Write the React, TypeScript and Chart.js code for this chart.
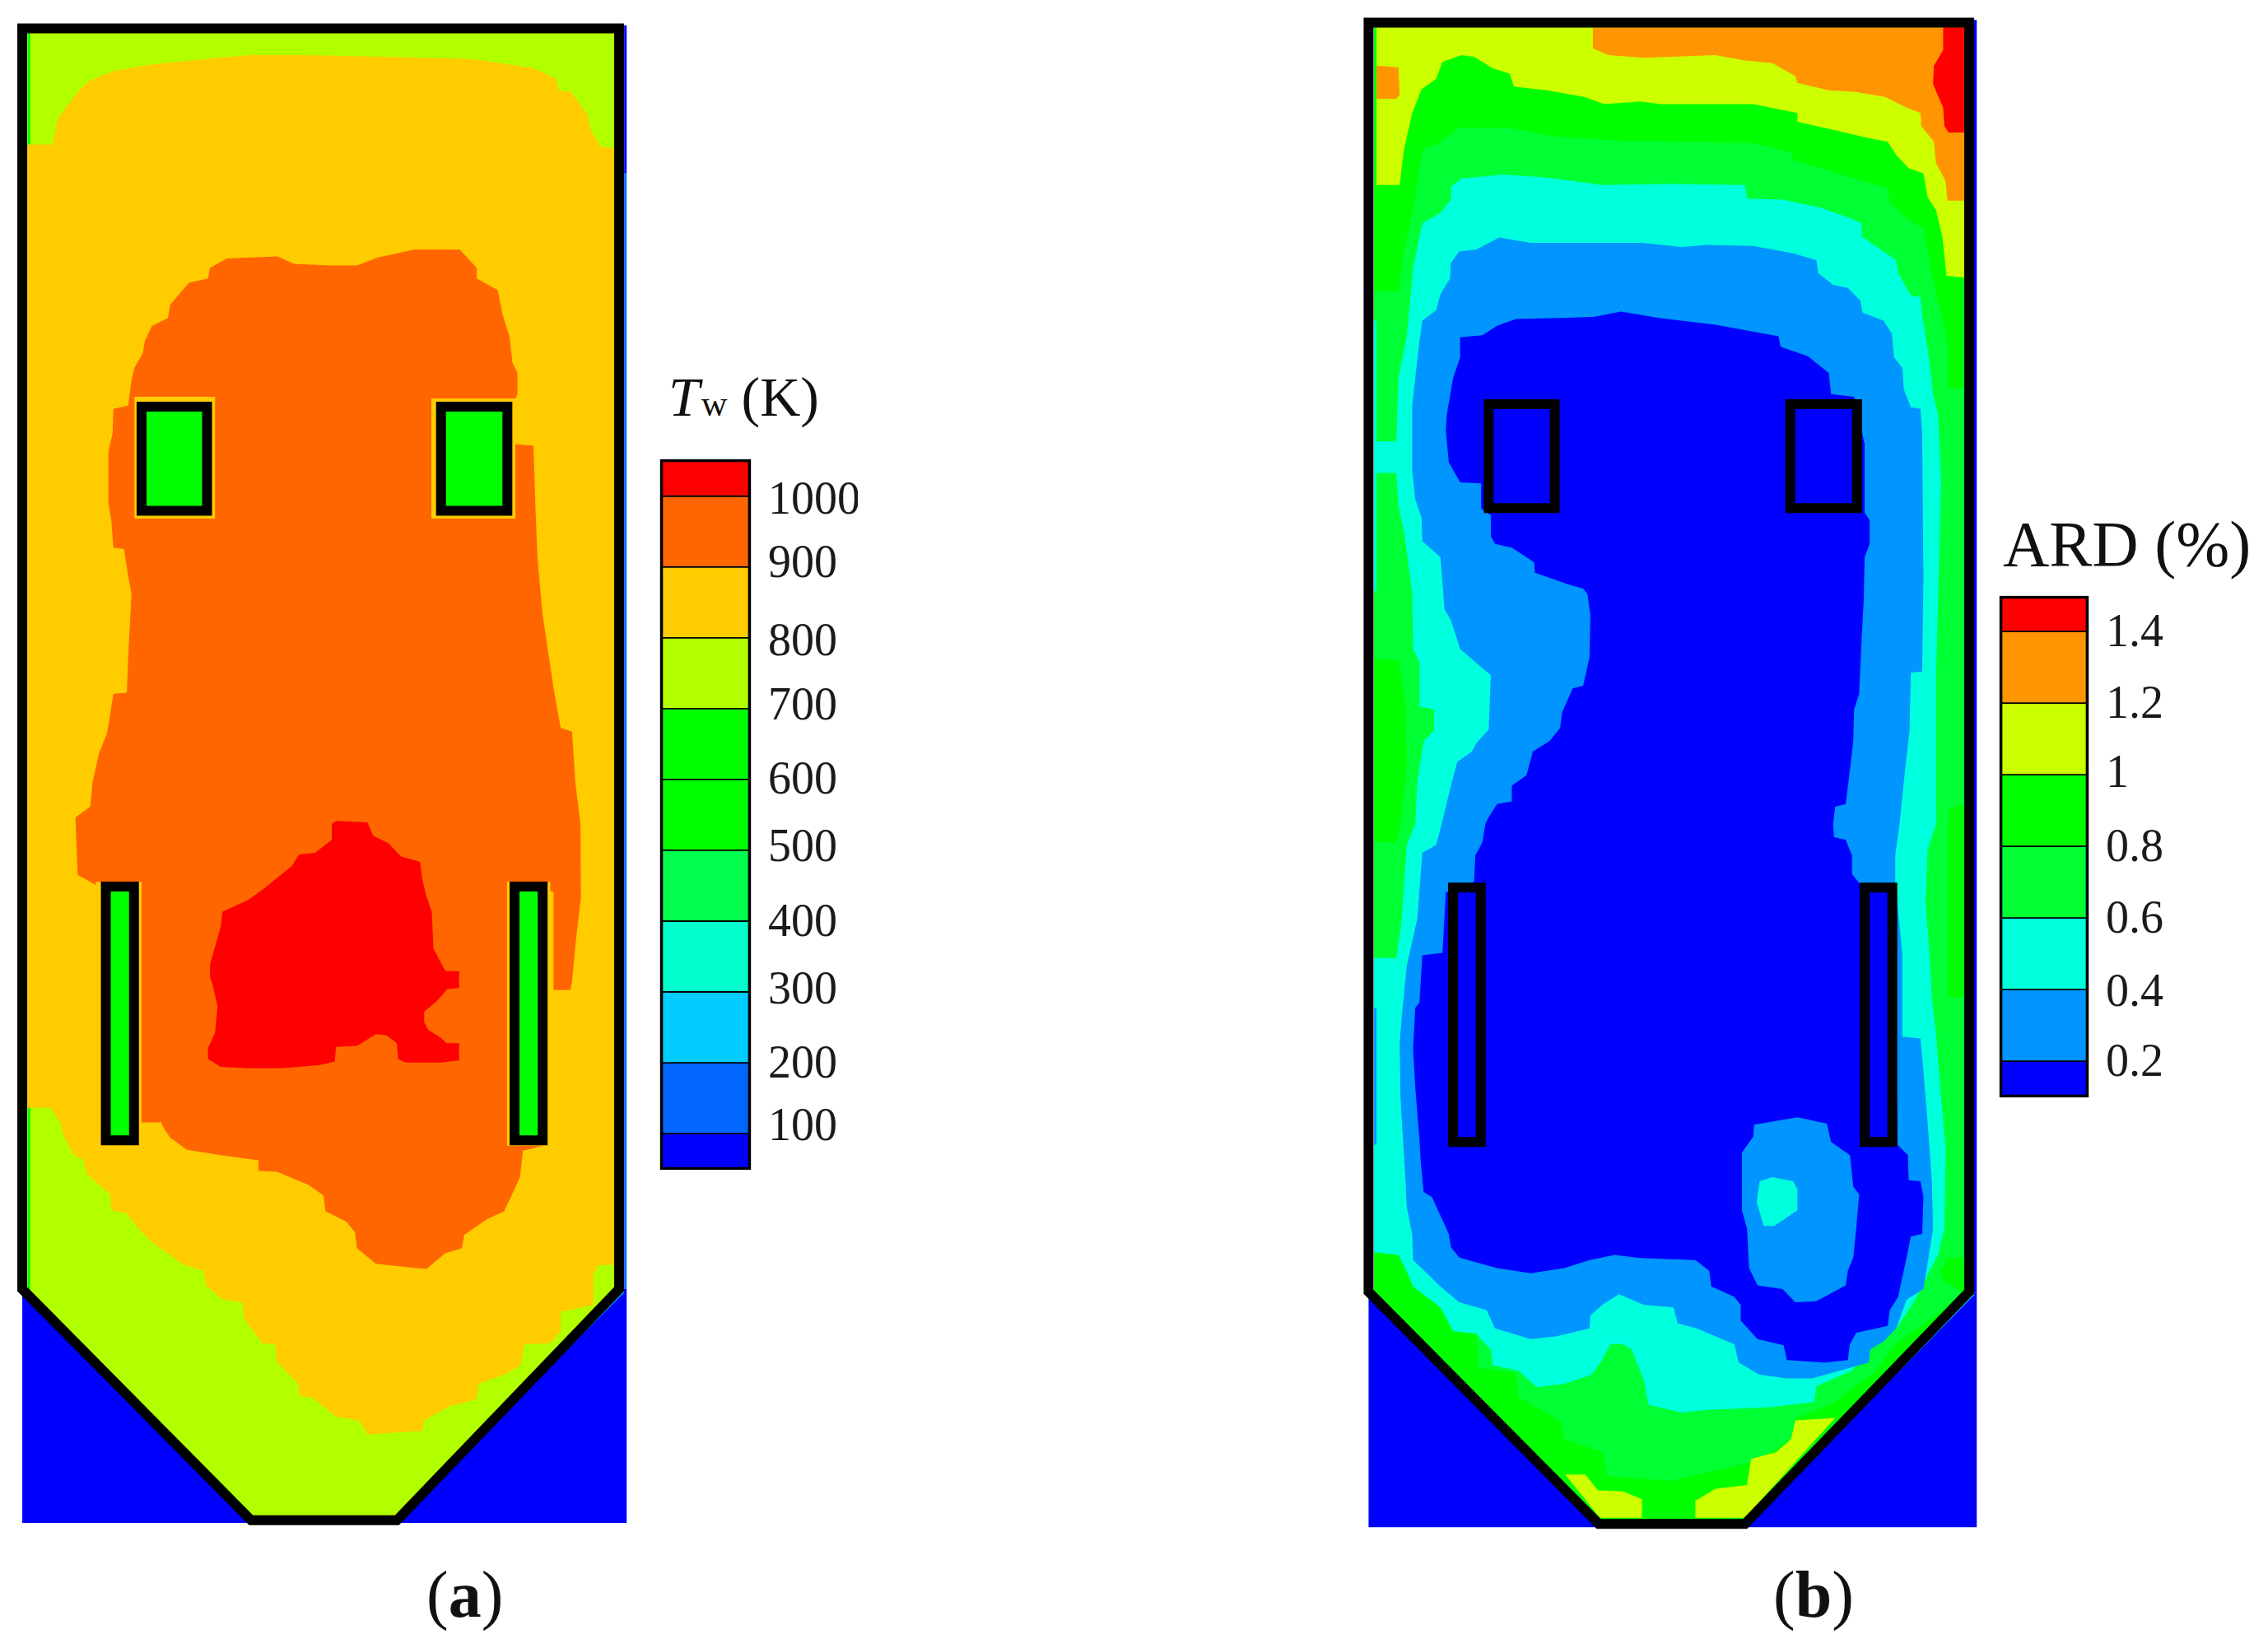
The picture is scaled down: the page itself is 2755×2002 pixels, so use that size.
import { useEffect, useRef } from 'react'
import { Chart, registerables } from 'chart.js'

Chart.register(...registerables)

type Pt = [number, number]

// furnace grid units: 1568 wide per 800px, 3136 tall per 2002px
const GRID_W = 1568
const GRID_H = 3136

// ---------- panel (a), wall temperature contours ----------
const aHopperBlue: Pt[] = [[53, 2453], [1492, 2453], [1492, 2898], [53, 2898]]
const aInterior: Pt[] = [[65, 62], [1462, 62], [1462, 2455], [945, 2885], [600, 2885], [65, 2455]]
const a800: Pt[] = [[72, 275], [125, 275], [138, 225], [185, 175], [210, 155], [270, 135], [365, 122], [495, 112], [590, 105], [740, 105], [1120, 112], [1190, 120], [1270, 130], [1325, 150], [1330, 172], [1360, 175], [1400, 220], [1405, 245], [1430, 280], [1462, 282], [1462, 2406], [1425, 2408], [1413, 2423], [1413, 2483], [1335, 2496], [1335, 2533], [1310, 2556], [1248, 2558], [1240, 2598], [1200, 2616], [1140, 2633], [1135, 2663], [1070, 2676], [1010, 2703], [1005, 2723], [875, 2730], [855, 2703], [800, 2696], [745, 2660], [712, 2656], [710, 2633], [660, 2593], [655, 2558], [625, 2556], [580, 2508], [578, 2478], [530, 2473], [490, 2446], [485, 2418], [440, 2408], [360, 2363], [330, 2338], [300, 2308], [265, 2303], [262, 2273], [205, 2233], [200, 2208], [175, 2198], [150, 2158], [145, 2138], [120, 2108], [65, 2108], [65, 275]]
const a900: Pt[] = [[500, 510], [540, 492], [660, 488], [700, 502], [790, 505], [850, 505], [900, 490], [985, 475], [1095, 475], [1135, 510], [1135, 530], [1185, 552], [1197, 600], [1213, 640], [1220, 690], [1232, 710], [1232, 750], [1225, 762], [1225, 845], [1270, 848], [1275, 970], [1280, 1065], [1292, 1170], [1305, 1240], [1318, 1310], [1335, 1385], [1362, 1392], [1370, 1490], [1382, 1568], [1383, 1708], [1372, 1783], [1362, 1868], [1358, 1884], [1318, 1884], [1318, 1698], [1303, 1693], [1303, 2178], [1245, 2190], [1238, 2240], [1215, 2280], [1200, 2305], [1160, 2320], [1105, 2350], [1100, 2375], [1060, 2385], [1015, 2415], [895, 2405], [850, 2375], [845, 2345], [825, 2325], [775, 2305], [770, 2275], [735, 2255], [660, 2230], [615, 2228], [615, 2208], [525, 2198], [445, 2188], [405, 2165], [385, 2140], [385, 2136], [335, 2136], [335, 1690], [240, 1690], [215, 1678], [185, 1665], [180, 1568], [180, 1555], [215, 1535], [220, 1490], [235, 1435], [255, 1395], [270, 1320], [302, 1318], [305, 1255], [313, 1130], [305, 1095], [295, 1045], [270, 1042], [265, 990], [258, 955], [258, 860], [268, 825], [270, 778], [305, 772], [313, 725], [320, 700], [340, 672], [345, 648], [362, 620], [400, 605], [405, 580], [450, 538], [495, 530]]
const a1000: Pt[] = [[800, 1562], [875, 1565], [888, 1590], [925, 1605], [955, 1630], [1000, 1640], [1005, 1670], [1013, 1700], [1028, 1735], [1032, 1805], [1055, 1840], [1062, 1848], [1093, 1848], [1093, 1880], [1065, 1882], [1040, 1905], [1010, 1925], [1010, 1945], [1020, 1960], [1050, 1975], [1063, 1985], [1093, 1985], [1093, 2018], [1050, 2022], [965, 2022], [948, 2015], [945, 1985], [920, 1970], [895, 1968], [850, 1990], [800, 1992], [797, 2020], [760, 2027], [670, 2033], [590, 2033], [525, 2030], [495, 2015], [495, 1995], [512, 1965], [518, 1915], [505, 1870], [500, 1860], [500, 1835], [525, 1765], [530, 1735], [565, 1722], [590, 1713], [625, 1693], [695, 1648], [712, 1626], [750, 1623], [790, 1598], [790, 1568]]
const aWindowHalos: Pt[][] = [
  [[320, 755], [512, 755], [512, 987], [320, 987]],
  [[1027, 758], [1227, 758], [1227, 987], [1027, 987]],
  [[228, 1678], [337, 1678], [337, 2188], [228, 2188]],
  [[1207, 1678], [1310, 1678], [1310, 2180], [1207, 2180]],
]
const aWindows: Pt[][] = [
  [[337, 774], [493, 774], [493, 972], [337, 972]],
  [[1050, 774], [1208, 774], [1208, 972], [1050, 972]],
  [[252, 1687], [319, 1687], [319, 2170], [252, 2170]],
  [[1225, 1687], [1292, 1687], [1292, 2170], [1225, 2170]],
]
const aWall: Pt[] = [[53, 54], [1474, 54], [1474, 2453], [945, 2893], [598, 2893], [53, 2453]]

// ---------- panel (b), ARD contours ----------
const bHopperBlue: Pt[] = [[44, 2460], [1492, 2460], [1492, 2906], [44, 2906]]
const bRightEdge: Pt[] = [[1484, 38], [1492, 38], [1492, 2460], [1484, 2460]]
const bInterior: Pt[] = [[57, 52], [1462, 52], [1462, 2458], [940, 2892], [592, 2892], [57, 2458]]
const b10: Pt[] = [[63, 52], [1462, 52], [1462, 528], [1420, 525], [1410, 450], [1395, 400], [1375, 375], [1365, 330], [1330, 320], [1300, 295], [1280, 270], [1230, 262], [1140, 245], [1065, 232], [1065, 215], [960, 198], [740, 198], [690, 193], [605, 198], [560, 185], [470, 172], [390, 165], [380, 140], [340, 130], [295, 108], [265, 105], [220, 118], [205, 150], [170, 170], [148, 215], [128, 285], [118, 352], [63, 352]]
const b12: Pt[] = [[578, 52], [578, 92], [615, 105], [700, 110], [870, 105], [940, 115], [1005, 120], [1060, 145], [1065, 158], [1140, 172], [1205, 175], [1275, 185], [1325, 205], [1358, 215], [1360, 240], [1390, 270], [1395, 310], [1418, 345], [1422, 382], [1462, 382], [1462, 52]]
const b12Left: Pt[] = [[63, 125], [115, 128], [118, 180], [110, 188], [63, 188]]
const b14: Pt[] = [[1412, 52], [1412, 95], [1390, 125], [1388, 160], [1412, 205], [1415, 240], [1425, 252], [1462, 252], [1462, 52]]
const b08: Pt[] = [[57, 555], [115, 555], [130, 470], [150, 400], [172, 285], [205, 275], [260, 243], [380, 243], [490, 260], [640, 268], [960, 272], [1050, 290], [1055, 305], [1130, 322], [1200, 340], [1280, 358], [1285, 385], [1325, 415], [1365, 435], [1385, 520], [1400, 575], [1425, 660], [1425, 738], [1462, 738], [1462, 2456], [1400, 2500], [1300, 2556], [1250, 2610], [1150, 2670], [1060, 2700], [1055, 2735], [1020, 2755], [950, 2783], [900, 2793], [760, 2818], [610, 2808], [600, 2763], [510, 2738], [500, 2703], [400, 2658], [395, 2613], [305, 2603], [300, 2536], [240, 2528], [240, 2493], [205, 2473], [150, 2448], [135, 2415], [115, 2388], [57, 2383]]
const b08Patches: Pt[][] = [
  [[1425, 1540], [1462, 1530], [1462, 1898], [1425, 1898]],
  [[57, 1255], [115, 1255], [130, 1330], [135, 1450], [120, 1568], [110, 1603], [57, 1603]],
  [[1425, 2393], [1462, 2393], [1462, 2458], [1415, 2440], [1405, 2420]],
]
const b10Bottom: Pt[][] = [
  [[512, 2806], [560, 2806], [590, 2836], [650, 2838], [695, 2853], [695, 2888], [595, 2888]],
  [[822, 2856], [870, 2833], [945, 2826], [955, 2776], [1015, 2763], [1050, 2738], [1060, 2703], [1155, 2698], [940, 2888], [822, 2888]],
]
const b06: Pt[] = [[240, 355], [265, 340], [365, 332], [470, 338], [600, 352], [760, 350], [940, 352], [945, 378], [1030, 380], [1120, 395], [1190, 415], [1218, 425], [1218, 450], [1300, 495], [1305, 520], [1335, 562], [1358, 565], [1362, 600], [1378, 680], [1388, 750], [1400, 790], [1407, 915], [1400, 1140], [1395, 1285], [1395, 1568], [1375, 1618], [1370, 1718], [1380, 1818], [1385, 1898], [1395, 1968], [1405, 2068], [1418, 2188], [1415, 2338], [1400, 2388], [1380, 2418], [1360, 2453], [1330, 2493], [1300, 2528], [1235, 2568], [1195, 2608], [1110, 2638], [1105, 2668], [1000, 2678], [850, 2683], [790, 2688], [710, 2673], [700, 2628], [670, 2568], [650, 2558], [620, 2558], [600, 2588], [575, 2616], [510, 2633], [445, 2640], [400, 2608], [340, 2598], [335, 2568], [300, 2538], [245, 2533], [215, 2488], [150, 2448], [135, 2420], [115, 2388], [57, 2383], [57, 1823], [110, 1823], [122, 1758], [135, 1608], [155, 1568], [160, 1490], [175, 1410], [200, 1390], [200, 1350], [165, 1345], [165, 1260], [150, 1235], [148, 1130], [130, 1020], [115, 960], [110, 900], [57, 900], [57, 840], [110, 840], [115, 720], [125, 680], [135, 640], [150, 510], [172, 425], [215, 405], [240, 380]]
const b04: Pt[] = [[240, 500], [260, 478], [300, 475], [355, 452], [430, 462], [695, 462], [790, 470], [850, 466], [960, 468], [1055, 482], [1110, 495], [1115, 520], [1150, 542], [1185, 548], [1215, 572], [1220, 595], [1270, 610], [1290, 635], [1295, 680], [1315, 700], [1318, 740], [1335, 775], [1358, 778], [1362, 825], [1365, 1100], [1362, 1278], [1335, 1280], [1332, 1390], [1322, 1460], [1308, 1568], [1298, 1628], [1298, 1678], [1315, 1818], [1315, 1973], [1358, 1976], [1365, 2038], [1378, 2168], [1385, 2248], [1388, 2338], [1365, 2453], [1325, 2473], [1300, 2528], [1270, 2553], [1238, 2568], [1235, 2593], [1100, 2623], [1040, 2623], [975, 2616], [925, 2593], [915, 2558], [825, 2528], [780, 2518], [770, 2488], [700, 2483], [640, 2463], [600, 2483], [572, 2503], [570, 2528], [490, 2543], [430, 2548], [345, 2528], [325, 2493], [260, 2478], [215, 2448], [150, 2398], [148, 2348], [135, 2298], [132, 2248], [120, 2088], [118, 1983], [125, 1918], [135, 1838], [160, 1748], [172, 1623], [205, 1608], [218, 1568], [240, 1495], [255, 1450], [290, 1430], [300, 1415], [330, 1388], [335, 1285], [262, 1235], [240, 1180], [225, 1160], [215, 1060], [172, 1030], [170, 985], [155, 950], [148, 895], [148, 770], [155, 720], [165, 650], [172, 610], [205, 590], [215, 560], [238, 530]]
const b02: Pt[] = [[262, 642], [315, 638], [350, 620], [395, 607], [500, 605], [580, 603], [645, 593], [735, 605], [870, 618], [1020, 640], [1025, 660], [1090, 678], [1140, 710], [1145, 750], [1200, 755], [1225, 845], [1225, 975], [1237, 990], [1237, 1035], [1225, 1060], [1223, 1140], [1218, 1215], [1212, 1320], [1200, 1350], [1198, 1410], [1190, 1465], [1180, 1530], [1155, 1535], [1150, 1568], [1152, 1593], [1180, 1598], [1195, 1628], [1195, 1663], [1215, 1683], [1295, 1683], [1303, 2178], [1328, 2198], [1330, 2246], [1358, 2248], [1365, 2278], [1362, 2348], [1335, 2353], [1325, 2393], [1310, 2448], [1305, 2468], [1285, 2493], [1280, 2523], [1205, 2536], [1190, 2558], [1185, 2588], [1130, 2593], [1040, 2588], [1032, 2560], [970, 2548], [930, 2513], [930, 2483], [915, 2468], [860, 2448], [855, 2418], [822, 2398], [690, 2394], [630, 2388], [570, 2398], [510, 2413], [430, 2423], [350, 2413], [260, 2393], [240, 2373], [235, 2348], [195, 2278], [175, 2268], [168, 2208], [165, 2168], [155, 2068], [150, 1998], [155, 1918], [165, 1908], [172, 1818], [220, 1813], [228, 1698], [295, 1678], [298, 1628], [315, 1603], [322, 1568], [330, 1555], [350, 1530], [385, 1525], [385, 1495], [420, 1475], [435, 1430], [475, 1410], [500, 1385], [505, 1355], [530, 1310], [555, 1305], [570, 1250], [572, 1170], [565, 1130], [555, 1120], [520, 1112], [440, 1090], [438, 1070], [385, 1042], [345, 1035], [335, 1020], [335, 980], [312, 968], [312, 920], [262, 918], [235, 880], [228, 820], [230, 790], [245, 720], [262, 680]]
const bIsland04: Pt[] = [[962, 2140], [1065, 2126], [1135, 2138], [1145, 2173], [1190, 2198], [1198, 2258], [1212, 2273], [1205, 2338], [1198, 2393], [1185, 2418], [1180, 2446], [1110, 2476], [1060, 2478], [1030, 2453], [970, 2446], [950, 2413], [945, 2338], [933, 2303], [933, 2193], [960, 2163]]
const bIsland06: Pt[] = [[975, 2248], [1005, 2240], [1055, 2248], [1065, 2263], [1065, 2303], [1010, 2333], [985, 2333], [968, 2288]]
const bWindows: Pt[][] = [
  [[330, 769], [487, 769], [487, 967], [330, 967]],
  [[1048, 769], [1207, 769], [1207, 967], [1048, 967]],
  [[245, 1689], [311, 1689], [311, 2173], [245, 2173]],
  [[1225, 1689], [1291, 1689], [1291, 2173], [1225, 2173]],
]
const bWall: Pt[] = [[44, 43], [1474, 43], [1474, 2458], [940, 2900], [592, 2900], [44, 2458]]

// ---------- colour bars ----------
const tempLabels = ['1000', '900', '800', '700', '600', '500', '400', '300', '200', '100']
const tempLabelAt = [992, 903, 792, 702, 597, 502, 396, 301, 196, 108]
const tempEdges = [1052, 1000, 900, 800, 700, 600, 500, 400, 300, 200, 100, 49]
const tempColors = ['#FF0000', '#FF6600', '#FFCC00', '#B2FF00', '#00FF00', '#00FF00', '#00FF4C', '#00FFCC', '#00CCFF', '#0066FF', '#0000FF']

const ardLabels = ['1.4', '1.2', '1', '0.8', '0.6', '0.4', '0.2']
const ardLabelAt = [1.392, 1.192, 1, 0.792, 0.592, 0.389, 0.192]
const ardEdges = [1.499, 1.4, 1.2, 1, 0.8, 0.6, 0.4, 0.2, 0.099]
const ardColors = ['#FF0000', '#FF9500', '#CCFF00', '#00FF00', '#00FF33', '#00FFDD', '#0095FF', '#0000FF']

const FONT = '"Liberation Serif", serif'

const close = (p: Pt[]) => [...p, p[0]].map(([x, y]) => ({ x, y }))
const area = (p: Pt[], color: string) => ({
  data: close(p),
  showLine: true,
  pointRadius: 0,
  borderWidth: 0,
  backgroundColor: color,
  fill: 'shape',
})
const outline = (p: Pt[], color: string, fillColor?: string) => ({
  data: close(p),
  showLine: true,
  pointRadius: 0,
  borderWidth: 12,
  borderColor: color,
  borderJoinStyle: 'miter',
  borderCapStyle: 'square',
  backgroundColor: fillColor,
  fill: fillColor ? 'shape' : false,
})
const edge = (p: Pt[], color: string, width: number) => ({
  data: p.map(([x, y]) => ({ x, y })),
  showLine: true,
  pointRadius: 0,
  borderWidth: width,
  borderColor: color,
  fill: false,
})

const panelA = [
  area(aHopperBlue, '#0000FF'),
  area([[1486, 48], [1492, 48], [1492, 330], [1486, 330]], '#0000FF'),
  area([[1486, 330], [1492, 330], [1492, 2453], [1486, 2453]], '#0066FF'),
  area(aInterior, '#B2FF00'),
  edge([[69, 62], [69, 2458], [600, 2885]], '#00FF00', 3),
  edge([[1485, 2458], [1262, 2637]], '#00CCFF', 2),
  area(a800, '#FFCC00'),
  area(a900, '#FF6600'),
  area(a1000, '#FF0000'),
  ...aWindowHalos.map(h => area(h, '#FFCC00')),
  ...aWindows.map(w => outline(w, '#000000', '#00FF00')),
  outline(aWall, '#000000'),
]

const panelB = [
  area(bHopperBlue, '#0000FF'),
  area(bRightEdge, '#0000FF'),
  area(bInterior, '#00FF00'),
  edge([[1485, 2463], [1300, 2613]], '#00CCFF', 2),
  area(b08, '#00FF33'),
  ...b08Patches.map(p => area(p, '#00FF00')),
  ...b10Bottom.map(p => area(p, '#CCFF00')),
  area(b10, '#CCFF00'),
  area(b12, '#FF9500'),
  area(b12Left, '#FF9500'),
  area(b14, '#FF0000'),
  area(b06, '#00FFDD'),
  area(b04, '#0095FF'),
  area(b02, '#0000FF'),
  area(bIsland04, '#0095FF'),
  area(bIsland06, '#00FFDD'),
  edge([[60, 610], [60, 1125]], '#00FFDD', 3),
  edge([[60, 1918], [60, 2178]], '#0095FF', 3),
  ...bWindows.map(w => outline(w, '#000000', '#0000FF')),
  outline(bWall, '#000000'),
]

function Panel({ left, sets }: { left: number; sets: any[] }) {
  const canvasRef = useRef<HTMLCanvasElement | null>(null)

  useEffect(() => {
    if (!canvasRef.current) return
    // chart.js paints the first dataset last, so flip the painter's order
    const chart = new Chart(canvasRef.current, {
      type: 'scatter',
      data: { datasets: [...sets].reverse() },
      options: {
        animation: false,
        responsive: false,
        devicePixelRatio: 1,
        layout: { padding: 0 },
        plugins: { legend: { display: false }, tooltip: { enabled: false } },
        elements: { line: { tension: 0 } },
        scales: {
          x: { type: 'linear', display: false, min: 0, max: GRID_W },
          y: { type: 'linear', display: false, min: 0, max: GRID_H, reverse: true },
        },
      },
    } as any)
    return () => chart.destroy()
  }, [sets])

  return <canvas ref={canvasRef} width={800} height={2002} style={{ position: 'absolute', left, top: 0 }} />
}

function ColorBar({ left, top, barW, barH, edges, colors, labels, labelAt }: {
  left: number; top: number; barW: number; barH: number
  edges: number[]; colors: string[]; labels: string[]; labelAt: number[]
}) {
  const canvasRef = useRef<HTMLCanvasElement | null>(null)
  const pad = 4
  const axisW = 130

  useEffect(() => {
    if (!canvasRef.current) return
    const bands = colors.map((c, i) => ({
      data: [[edges[i + 1], edges[i]]],
      backgroundColor: c,
      borderColor: '#000000',
      borderWidth: 1.25,
      borderSkipped: false,
      clip: false,
    }))
    const frame = {
      data: [[edges[edges.length - 1], edges[0]]],
      backgroundColor: 'transparent',
      borderColor: '#000000',
      borderWidth: 3,
      borderSkipped: false,
      clip: false,
    }
    const chart = new Chart(canvasRef.current, {
      type: 'bar',
      data: { labels: [''], datasets: [frame, ...bands] },
      options: {
        animation: false,
        responsive: false,
        devicePixelRatio: 1,
        layout: { padding: { left: pad, top: pad, bottom: pad, right: 0 } },
        plugins: { legend: { display: false }, tooltip: { enabled: false } },
        datasets: { bar: { grouped: false, barPercentage: 1, categoryPercentage: 1 } },
        scales: {
          x: { display: false },
          y: {
            position: 'right',
            min: edges[edges.length - 1],
            max: edges[0],
            grid: { display: false, drawTicks: false },
            border: { display: false },
            afterBuildTicks: (axis: any) => { axis.ticks = labelAt.map(value => ({ value })) },
            // no room kept for the first and last label, the bar fills the canvas height
            afterFit: (axis: any) => { axis.width = axisW; axis.paddingTop = 0; axis.paddingBottom = 0 },
            ticks: {
              autoSkip: false,
              padding: 21,
              color: '#1a1a1a',
              font: { family: FONT, size: 56 },
              callback: (v: any) => labels[labelAt.indexOf(v)],
            },
          },
        },
      },
    } as any)
    return () => chart.destroy()
  }, [])

  return (
    <canvas
      ref={canvasRef}
      width={barW + axisW + pad}
      height={barH + pad * 2}
      style={{ position: 'absolute', left: left - pad, top: top - pad }}
    />
  )
}

const textStyle = (left: number, top: number, size: number): any => ({
  position: 'absolute', left, top, fontSize: size, lineHeight: 1, fontFamily: FONT, color: '#111', whiteSpace: 'nowrap',
})

export default function App() {
  useEffect(() => {
    document.body.style.margin = '0'
  }, [])

  return (
    <div style={{ position: 'absolute', left: 0, top: 0, width: 2755, height: 2002, background: '#fff', overflow: 'hidden' }}>
      <Panel left={0} sets={panelA} />
      <Panel left={1640} sets={panelB} />
      <ColorBar left={802} top={558} barW={110} barH={863} edges={tempEdges} colors={tempColors} labels={tempLabels} labelAt={tempLabelAt} />
      <ColorBar left={2429} top={724} barW={108} barH={609} edges={ardEdges} colors={ardColors} labels={ardLabels} labelAt={ardLabelAt} />
      <div style={textStyle(812, 448, 68)}>
        <i>T</i><span style={{ fontSize: 44, marginLeft: 2 }}>w</span> (K)
      </div>
      <div style={textStyle(2433, 622, 78)}>ARD (%)</div>
      <div style={textStyle(518, 1897, 80)}>(<b>a</b>)</div>
      <div style={textStyle(2154, 1897, 80)}>(<b>b</b>)</div>
    </div>
  )
}
